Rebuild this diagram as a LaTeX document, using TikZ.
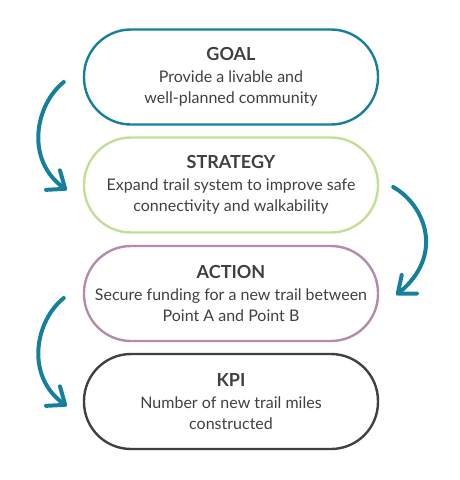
\documentclass[tikz,border=0pt]{standalone}
\usepackage{fontspec}
\setmainfont{Lato}
\usetikzlibrary{arrows.meta,calc}
\definecolor{teal1}{RGB}{22,128,156}
\definecolor{green1}{RGB}{197,222,150}
\definecolor{mauve1}{RGB}{180,140,170}
\definecolor{dark1}{RGB}{64,64,64}
\definecolor{txt}{RGB}{64,64,64}
\begin{document}
\begin{tikzpicture}[x=1pt,y=1pt,
  pill/.style={draw, line width=2.4pt, rounded corners=47pt, minimum width=294pt, minimum height=95pt,
    align=center, text=txt, inner sep=0pt, font=\fontsize{16}{20.5}\selectfont},
  flow/.style={draw=teal1, line width=4pt, line cap=round,
    -{Straight Barb[length=15pt, width=24pt, line cap=round, line join=round]}}]
\newcommand{\ttlfont}{\fontsize{18}{20}\selectfont\bfseries}
\useasboundingbox (0,0) rectangle (460,-480);
\node[pill, draw=teal1] (goal) at (231,-77) {{\ttlfont GOAL}\\[1.5pt]Provide a livable and\\well-planned community};
\node[pill, draw=green1] (strategy) at (231,-185) {{\ttlfont STRATEGY}\\[1.5pt]Expand trail system to improve safe\\connectivity and walkability};
\node[pill, draw=mauve1] (action) at (231,-293.5) {{\ttlfont ACTION}\\[1.5pt]Secure funding for a new trail between\\Point A and Point B};
\node[pill, draw=dark1] (kpi) at (231,-401.5) {{\ttlfont KPI}\\[1.5pt]Number of new trail miles\\constructed};
\coordinate (a1s) at ($(goal.west)+(-19,-5)$);
\coordinate (a1e) at ($(strategy.west)+(-16,-5)$);
\coordinate (a2s) at ($(strategy.east)+(14,-2)$);
\coordinate (a2e) at ($(action.east)+(17,-1.5)$);
\coordinate (a3s) at ($(action.west)+(-19,-4.5)$);
\coordinate (a3e) at ($(kpi.west)+(-16,-4.5)$);
\draw[flow] (a1s) .. controls (35,-105) and (25,-160) .. (a1e);
\draw[flow] (a2s) .. controls (425,-205) and (445,-255) .. (a2e);
\draw[flow] (a3s) .. controls (35,-321) and (25,-376) .. (a3e);
\end{tikzpicture}
\end{document}
